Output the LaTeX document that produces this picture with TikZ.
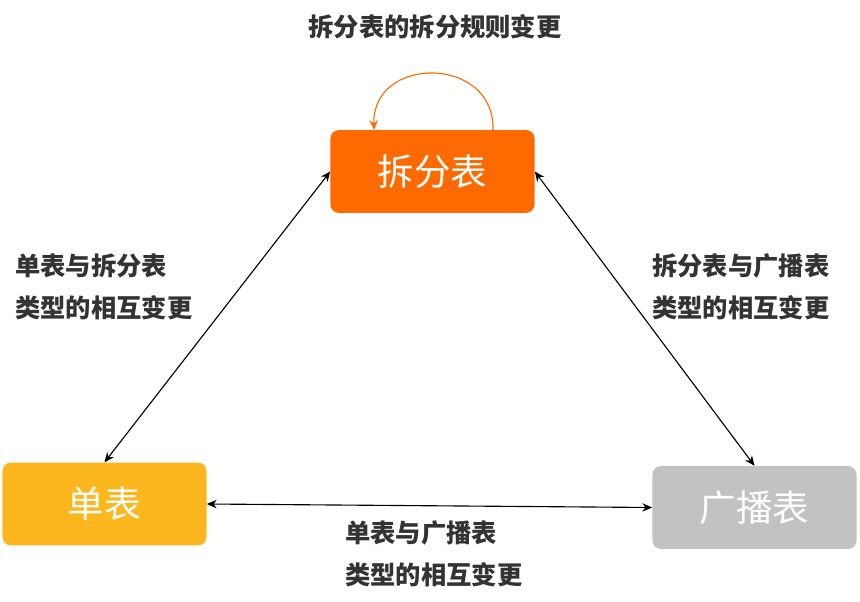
\documentclass[tikz,border=0pt]{standalone}
\usepackage{fontspec}
\newfontfamily\cjk{Noto Sans CJK SC}
\usepackage{tikz}
\usetikzlibrary{arrows.meta}
\definecolor{orange3}{HTML}{FF6A00}
\definecolor{yellow3}{HTML}{FDB71E}
\definecolor{gray3}{HTML}{C2C2C2}
\definecolor{text3}{HTML}{333333}

\begin{document}
\begin{tikzpicture}[x=0.025cm, y=-0.025cm, >={Stealth[length=7pt,width=6pt]},
  tbox/.style={rounded corners=6pt, minimum width=5.1cm, minimum height=2.07cm, inner sep=0pt, text=white, font=\cjk\fontsize{26}{30}\selectfont},
  lbl/.style={text=text3, font=\cjk\bfseries\fontsize{18}{30}\selectfont, align=left, inner sep=0pt}]

  \useasboundingbox (0,0) rectangle (860,602);

  \node[tbox, fill=orange3] (split) at (432.5,171.5) {拆分表};
  \node[tbox, fill=yellow3] (single) at (104.5,504) {单表};
  \node[tbox, fill=gray3] (bcast) at (754.5,507.5) {广播表};

  % arrows between the table types
  \draw[<->, thick] (split.west) -- (single.north);
  \draw[<->, thick] (split.east) -- (bcast.north);
  \draw[<->, thick] (single.east) -- (bcast.west);

  % loop on the split table
  \coordinate (loopout) at (493,130);
  \coordinate (loopin) at (374,130);
  \draw[->, orange3, thick] (loopout) .. controls (495,55) and (372,55) .. (loopin);

  \node[lbl, anchor=center] (tloop) at (435,27) {拆分表的拆分规则变更};
  \node[lbl, anchor=west] (tleft) at (15,287) {单表与拆分表\\类型的相互变更};
  \node[lbl, anchor=west] (tright) at (652,287) {拆分表与广播表\\类型的相互变更};
  \node[lbl, anchor=west] (tbottom) at (345,554) {单表与广播表\\类型的相互变更};

\end{tikzpicture}
\end{document}
